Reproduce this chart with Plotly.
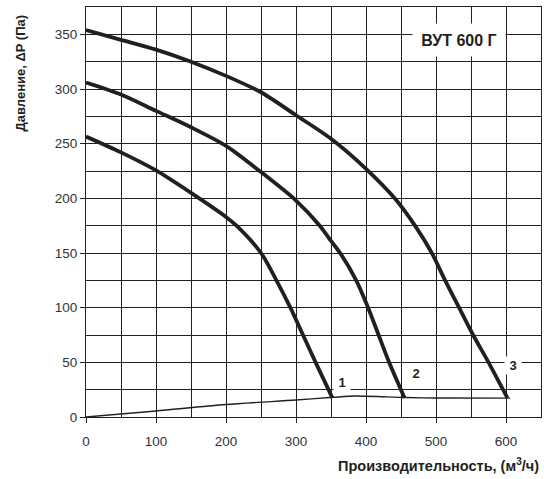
import plotly.graph_objects as go

# Fan curves (Q in m3/h, dP in Pa)
c1_x = [0, 50, 100, 150, 200, 215, 250, 272, 292, 310, 328, 352]
c1_y = [256.5, 242, 225.5, 205, 183, 175, 150, 125, 100, 75, 50, 17.5]
c2_x = [0, 50, 100, 150, 200, 250, 300, 334, 350, 363, 386, 403, 418, 433, 455]
c2_y = [306, 295, 280, 265, 248, 224, 198, 175, 161, 150, 125, 100, 75, 50, 17.5]
c3_x = [0, 50, 100, 150, 200, 250, 300, 350, 400, 441, 470, 494, 513, 533, 553, 575, 602]
c3_y = [354, 345, 336, 325, 312, 297, 276, 254.5, 227, 200, 175, 150, 125, 100, 75, 50, 17.5]
sys_x = [0, 100, 200, 300, 353, 385, 456, 500, 606]
sys_y = [0, 5.5, 11.4, 15.5, 18, 19.2, 17.8, 17.4, 17.3]

label_text = ["1", "2", "3"]
label_x = [365, 472, 610]
label_y = [32, 39.5, 47]

title_text = "ВУТ 600 Г"
x_title = "Производительность, (м<sup>3</sup>/ч)"
y_title = "Давление, ΔP (Па)"

INK = "#231f20"
FONT = "Liberation Sans, Arial, sans-serif"

fig = go.Figure()
for xs, ys in [(c1_x, c1_y), (c2_x, c2_y), (c3_x, c3_y)]:
    fig.add_trace(go.Scatter(x=xs, y=ys, mode="lines",
                             line=dict(color=INK, width=3.8, shape="spline", smoothing=0.8),
                             showlegend=False, hoverinfo="skip"))
fig.add_trace(go.Scatter(x=sys_x, y=sys_y, mode="lines",
                         line=dict(color=INK, width=1.4, shape="spline", smoothing=0.8),
                         showlegend=False, hoverinfo="skip"))

for t, x, y in zip(label_text, label_x, label_y):
    fig.add_annotation(x=x, y=y, text=f"<b>{t}</b>", showarrow=False,
                       font=dict(family=FONT, size=13, color=INK),
                       bgcolor="white", borderpad=1, width=14)

fig.add_annotation(x=533, y=345, text=f"<b>{title_text}</b>", showarrow=False,
                   font=dict(family=FONT, size=16, color=INK),
                   bgcolor="white", width=90, height=30)

fig.add_annotation(xref="paper", yref="paper", x=0.999, y=-0.118,
                   xanchor="right", yanchor="middle", text=f"<b>{x_title}</b>",
                   showarrow=False, font=dict(family=FONT, size=14.5, color=INK))
fig.add_annotation(xref="paper", yref="paper", x=-0.145, y=0.838,
                   xanchor="center", yanchor="middle", textangle=-90,
                   text=f"<b>{y_title}</b>", showarrow=False,
                   font=dict(family=FONT, size=13, color=INK))

fig.update_layout(
    width=544, height=479,
    margin=dict(l=86, r=3, t=7, b=62),
    paper_bgcolor="white", plot_bgcolor="white",
    font=dict(family=FONT, size=13.5, color="#333"),
    xaxis=dict(range=[0, 650], dtick=100, tick0=0, showgrid=True, gridcolor=INK, gridwidth=1,
               minor=dict(dtick=50, showgrid=True, gridcolor=INK, gridwidth=1),
               showline=True, linecolor=INK, linewidth=1.2, mirror=True,
               ticks="outside", ticklen=5, tickcolor=INK, ticklabelstandoff=7,
               zeroline=False, fixedrange=True),
    yaxis=dict(range=[0, 375], dtick=50, tick0=0, showgrid=True, gridcolor=INK, gridwidth=1,
               minor=dict(dtick=25, showgrid=True, gridcolor=INK, gridwidth=1),
               showline=True, linecolor=INK, linewidth=1.2, mirror=True,
               ticks="outside", ticklen=5, tickcolor=INK,
               zeroline=False, fixedrange=True),
)

fig.write_html("out.html")
